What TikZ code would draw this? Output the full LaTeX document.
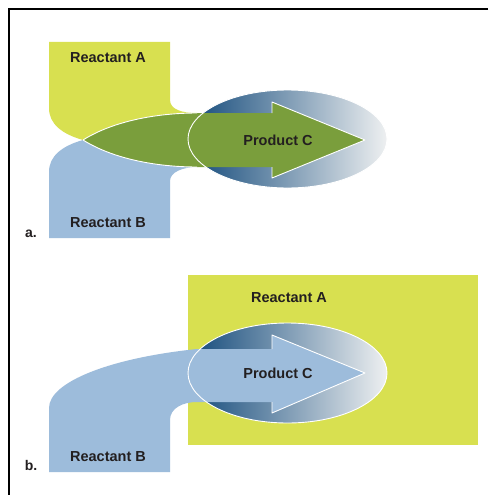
\documentclass[tikz,border=0pt]{standalone}
\usepackage{fontspec}
\setmainfont{Liberation Sans}
\definecolor{ylw}{HTML}{D8E050}
\definecolor{blu}{HTML}{9DBCDB}
\definecolor{grn}{HTML}{7A9E3C}
\definecolor{dkb}{HTML}{12497A}
\definecolor{mdb}{HTML}{7A9DB8}
\definecolor{ltg}{HTML}{EEF0F1}
\definecolor{txt}{HTML}{231F20}
\tikzset{
  lbl/.style={font=\fontsize{14.5}{16}\selectfont\bfseries, text=txt, inner sep=0pt},
  tag/.style={font=\fontsize{14}{16}\selectfont\bfseries, text=txt, inner sep=0pt},
  edge/.style={draw=white, line width=0.9pt, line join=round},
  oval/.style={left color=dkb, middle color=mdb, right color=ltg, shading angle=90}
}
\begin{document}
\begin{tikzpicture}[x=1pt,y=-1pt]
\useasboundingbox (0,0) rectangle (488,495);
\fill[white] (0,0) rectangle (488,495);
% frame
\draw[line width=1.2pt] (488,9) -- (9,9) -- (9,495);

% ---------- panel a ----------
% Reactant A
\fill[ylw] (49,42) -- (170,42) -- (170,100) .. controls (170,110) and (183,113) .. (197,113)
  .. controls (160,113) and (115,120) .. (83,140)
  .. controls (62,134) and (49,124) .. (49,108) -- cycle;
% Reactant B
\fill[blu] (83,140) .. controls (62,146) and (49,156) .. (49,172) -- (49,238) -- (170,238)
  -- (170,181) .. controls (170,172) and (183,167) .. (197,167)
  .. controls (160,167) and (115,160) .. (83,140) -- cycle;
% product ellipse
\shade[oval] (287.5,139) ellipse [x radius=99.5, y radius=49];
% lens + arrow
\fill[grn] (83,140) .. controls (115,120) and (160,113) .. (197,113) -- (272,113) -- (272,102)
  -- (365,140) -- (272,178) -- (272,167) -- (197,167)
  .. controls (160,167) and (115,160) .. (83,140) -- cycle;
\draw[edge] (83,140) .. controls (115,120) and (160,113) .. (197,113);
\draw[edge] (83,140) .. controls (115,160) and (160,167) .. (197,167);
\draw[edge] (272,113) -- (272,102) -- (365,140) -- (272,178) -- (272,167);
\draw[edge] (287.5,139) ellipse [x radius=99.5, y radius=49];
\node[lbl] (ra) at (108,58) {Reactant A};
\node[lbl] (rb) at (108,223) {Reactant B};
\node[lbl] (pc) at (278,140) {Product C};
\node[tag] (ta) at (31,234) {a.};

% ---------- panel b ----------
\fill[ylw] (188,275) rectangle (478,445);
\shade[oval] (287.5,373) ellipse [x radius=99.5, y radius=50];
\fill[blu] (365,373) -- (272,413) -- (272,402) -- (197,402)
  .. controls (183,402) and (170,408) .. (170,420) -- (170,472) -- (49,472) -- (49,408)
  .. controls (49,382) and (110,358) .. (197,349) -- (272,349) -- (272,335) -- cycle;
\draw[edge] (272,349) -- (272,335) -- (365,373) -- (272,413) -- (272,402);
\draw[edge] (287.5,373) ellipse [x radius=99.5, y radius=50];
\node[lbl] (ra2) at (289,298) {Reactant A};
\node[lbl] (pc2) at (278,373) {Product C};
\node[lbl] (rb2) at (108,457) {Reactant B};
\node[tag] (tb) at (31,465) {b.};
\end{tikzpicture}
\end{document}
